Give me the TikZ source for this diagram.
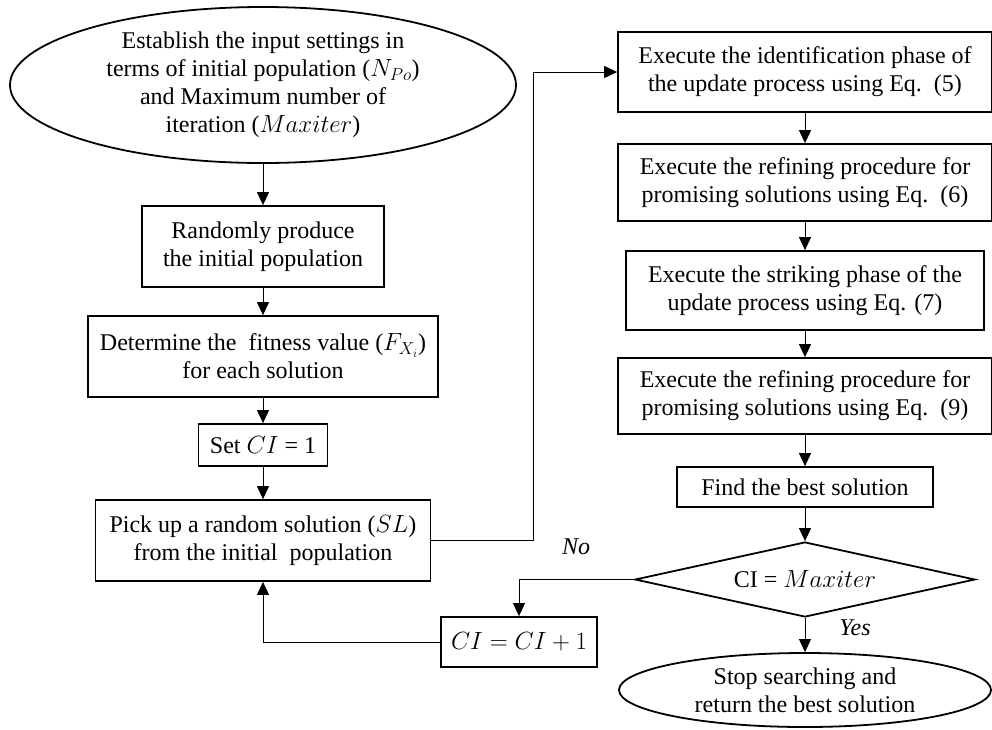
\documentclass[tikz,border=0pt]{standalone}
\usepackage{fontspec}
\setmainfont{Liberation Serif}
\usetikzlibrary{shapes.geometric,arrows.meta}
\newcommand{\flowfont}{\fontsize{24}{28}\selectfont}
\tikzset{
    block/.style={draw, rectangle, line width=1.8pt, align=center, inner sep=1pt, font=\flowfont},
    term/.style={draw, ellipse, line width=1.8pt, align=center, inner sep=0pt, font=\flowfont},
    decide/.style={draw, diamond, aspect=4.5, line width=1.8pt, inner sep=0pt, font=\flowfont},
    arr/.style={-{Triangle[length=13pt,width=12pt]}, line width=0.9pt},
    tag/.style={font=\flowfont\itshape}
}

\begin{document}
\begin{tikzpicture}[x=1pt, y=-1pt]
        \useasboundingbox (0,0) rectangle (992,729);

        % Left column
        \node [term, minimum width=506pt, minimum height=156pt] (start) at (263,85)
            {Establish the input settings in\\ terms of initial population ($N_{Po}$)\\ and Maximum number of\\ iteration ($Maxiter$)};
        \node [block, minimum width=242pt, minimum height=81pt] (init) at (263,246.5)
            {Randomly produce\\ the initial population};
        \node [block, minimum width=350pt, minimum height=81pt] (fitness) at (263,356.5)
            {Determine the\ \ fitness value ($F_{X_i}$)\\ for each solution};
        \node [block, minimum width=129pt, minimum height=42pt] (setci) at (263,445)
            {Set $CI$ = 1};
        \node [block, minimum width=335pt, minimum height=81pt] (pick) at (263,540.5)
            {Pick up a random solution ($SL$)\\ from the initial\ \ population};

        % Counter block
        \node [block, minimum width=156pt, minimum height=50pt] (incci) at (519,642)
            {$CI = CI + 1$};

        % Right column
        \node [block, minimum width=374pt, minimum height=80pt] (ident) at (805,72)
            {Execute the identification phase of\\ the update process using Eq.\ \ (5)};
        \node [block, minimum width=374pt, minimum height=77pt] (refineA) at (805,182.5)
            {Execute the refining procedure for\\ promising solutions using Eq.\ \ (6)};
        \node [block, minimum width=358pt, minimum height=79pt] (strike) at (805,290.5)
            {Execute the striking phase of the\\ update process using Eq. (7)};
        \node [block, minimum width=374pt, minimum height=76pt] (refineB) at (805,396)
            {Execute the refining procedure for\\ promising solutions using Eq.\ \ (9)};
        \node [block, minimum width=256pt, minimum height=40pt] (best) at (805,487)
            {Find the best solution};
        \node [decide, minimum width=340pt, minimum height=75pt] (check) at (805,579.5)
            {CI = $Maxiter$};
        \node [term, minimum width=372pt, minimum height=74pt] (stop) at (805,690)
            {Stop searching and\\ return the best solution};

        % Labels
        \node [tag] (nolabel) at (576,547) {No};
        \node [tag] (yeslabel) at (855,628) {Yes};

        \coordinate (jump) at (533,300);

        % Arrows
        \draw [arr] (start) -- (init);
        \draw [arr] (init) -- (fitness);
        \draw [arr] (fitness) -- (setci);
        \draw [arr] (setci) -- (pick);
        \draw [arr] (pick.east) -- (pick.east -| jump) |- (ident.west);
        \draw [arr] (ident) -- (refineA);
        \draw [arr] (refineA) -- (strike);
        \draw [arr] (strike) -- (refineB);
        \draw [arr] (refineB) -- (best);
        \draw [arr] (best) -- (check);
        \draw [arr] (check) -- (stop);
        \draw [arr] (check.west) -| (incci.north);
        \draw [arr] (incci.west) -| (pick.south);
    \end{tikzpicture}
\end{document}
